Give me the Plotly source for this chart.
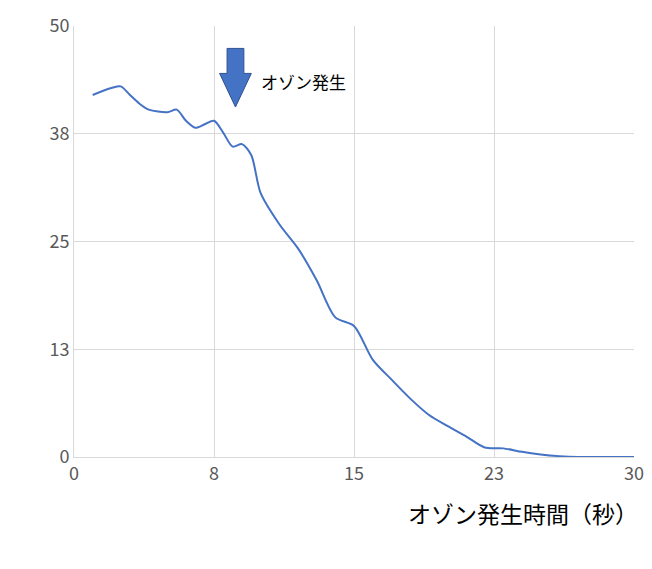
import plotly.graph_objects as go

# time (s) vs value
t = [1, 2, 2.5, 3, 3.5, 4, 5, 5.5, 6, 6.5, 7, 7.5, 8, 8.5, 9, 9.5, 10, 11, 12, 13, 14, 15,
     16, 17, 18, 19, 20, 21, 22, 23, 24, 25, 26, 27, 28, 29, 30]
v = [42, 42.8, 43, 42, 41, 40.3, 40, 40.3, 39, 38.2, 38.6, 39, 37.6, 36, 36.3, 35, 30.6,
     27, 24.2, 20.5, 16.2, 15.2, 11.3, 9, 6.8, 4.9, 3.6, 2.4, 1.1, 1, 0.6, 0.3, 0.1, 0, 0, 0, 0]

xticks = [0, 7.5, 15, 22.5, 30]
xlabels = ["0", "8", "15", "23", "30"]
yticks = [0, 12.5, 25, 37.5, 50]
ylabels = ["0", "13", "25", "38", "50"]

fig = go.Figure()
fig.add_trace(go.Scatter(x=t, y=v, mode="lines",
                         line=dict(color="#4472C4", width=2, shape="spline", smoothing=0.8)))

# fat down arrow
fig.add_shape(type="path", xref="x", yref="y",
              path="M 8.2 47.4 L 9.1 47.4 L 9.1 44.5 L 9.5 44.5 L 8.65 40.6 L 7.8 44.5 L 8.2 44.5 Z",
              fillcolor="#4472C4", line=dict(color="#2F528F", width=1))
fig.add_annotation(x=9.9, y=43.6, text="オゾン発生", showarrow=False, xanchor="left",
                   font=dict(size=17, color="#000"))

fig.update_layout(
    width=652, height=569, plot_bgcolor="white", paper_bgcolor="white",
    margin=dict(l=66, r=26, t=18, b=120, autoexpand=False), showlegend=False,
    font=dict(family="Noto Sans CJK JP", color="#595959"),
)
fig.update_xaxes(range=[0, 30], tickvals=xticks, ticktext=xlabels, showgrid=True,
                 gridcolor="#D9D9D9", zeroline=False, showline=True, linecolor="#D9D9D9",
                 tickfont=dict(size=18), ticks="", automargin=False)
fig.update_yaxes(range=[0, 50], tickvals=yticks, ticktext=ylabels, showgrid=True,
                 gridcolor="#D9D9D9", zeroline=False, showline=True, linecolor="#D9D9D9",
                 tickfont=dict(size=18), ticks="", automargin=False)
fig.add_annotation(xref="paper", yref="paper", x=1.01, y=-0.175, xanchor="right",
                   text="オゾン発生時間（秒）", showarrow=False, font=dict(size=23, color="#000"))

fig.write_html("out.html")
